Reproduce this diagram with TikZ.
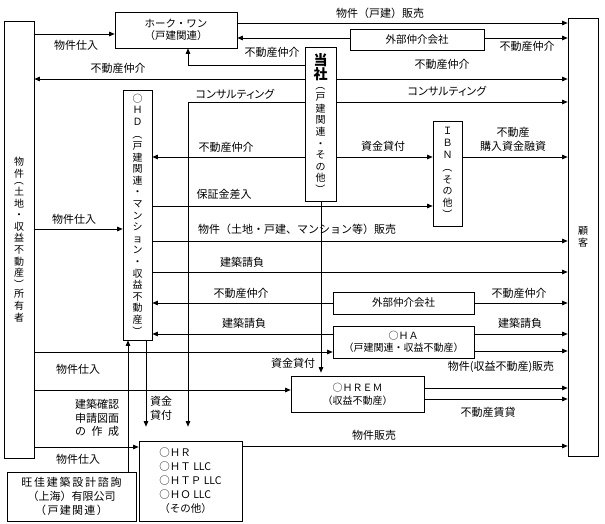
\documentclass[tikz,border=0pt]{standalone}
\usepackage{fontspec}
\usepackage{graphicx}
\setmainfont{Noto Sans CJK JP}
\usetikzlibrary{arrows.meta}
\newcommand{\vlp}{\rotatebox[origin=c]{-90}{（}}
\newcommand{\vrp}{\rotatebox[origin=c]{-90}{）}}
\newcommand{\labfont}{\fontsize{11}{13}\selectfont}
\newcommand{\boxfont}{\fontsize{10.5}{12}\selectfont}
\newcommand{\vfont}{\fontsize{10}{11.6}\selectfont}
\begin{document}
\begin{tikzpicture}[x=1pt,y=-1pt,
  box/.style={draw, line width=0.7pt, inner sep=0pt, align=center, font=\boxfont},
  vbox/.style={box, font=\vfont},
  ln/.style={line width=0.7pt},
  arr/.style={ln, -{Triangle[length=5.5pt,width=4.5pt]}},
  lab/.style={inner sep=0pt, align=center, font=\labfont},
  kana/.style={lab, font=\labfont\addfontfeature{RawFeature=+palt}}]
\useasboundingbox[fill=white] (0,0) rectangle (605,523);

% boxes
\node[vbox, minimum width=30pt, minimum height=437pt] (L) at (19,239.5)
  {物\\件\\[-5pt]\vlp\\土\\地\\・\\収\\益\\不\\動\\産\\\vrp\\[-2pt]所\\有\\者};
\node[vbox, minimum width=30pt, minimum height=438pt] (C) at (583,237) {顧\\客};
\node[box, minimum width=122pt, minimum height=36pt] (HW) at (176,30) {ホーク・ワン\\（戸建関連）};
\node[box, minimum width=134pt, minimum height=21pt] (EA1) at (417,39.5) {外部仲介会社};
\node[vbox, minimum width=31pt, minimum height=154pt] (TS) at (320.5,124)
  {\textbf{\fontsize{14}{14}\selectfont 当}\\\textbf{\fontsize{14}{14}\selectfont 社}\\[-2pt]\vlp\\戸\\建\\関\\連\\・\\そ\\の\\他\\\vrp};
\node[vbox, minimum width=29pt, minimum height=250pt] (OHD) at (137.5,215)
  {○\\Ｈ\\Ｄ\\[1pt]\vlp\\戸\\建\\関\\連\\・\\マ\\ン\\シ\\ョ\\ン\\・\\収\\益\\不\\動\\産\\\vrp};
\node[vbox, minimum width=29pt, minimum height=105pt] (IBN) at (447.5,173.5)
  {Ｉ\\Ｂ\\Ｎ\\[2pt]\vlp\\そ\\の\\他\\\vrp};
\node[box, minimum width=141pt, minimum height=22pt] (EA2) at (403.5,303) {外部仲介会社};
\node[box, minimum width=141pt, minimum height=32pt, font=\fontsize{10}{12}\selectfont] (OHA) at (403.5,342) {○ＨＡ\\（戸建関連・収益不動産）};
\node[box, minimum width=133pt, minimum height=36pt, font=\fontsize{10}{13}\selectfont] (OHREM) at (357.5,394) {○ＨＲＥＭ\\（収益不動産）};
\node[box, minimum width=103pt, minimum height=80pt, align=left, font=\fontsize{10.5}{14}\selectfont] (OHR) at (190.5,481)
  {○ＨＲ\\○ＨＴ LLC\\○ＨＴＰ LLC\\○ＨＯ LLC\\（その他）};
\node[box, minimum width=129pt, minimum height=49pt, font=\fontsize{11}{14}\selectfont] (WJ) at (71.5,496.5)
  {{\addfontfeature{LetterSpace=16}旺佳建築設計諮詢}\\（上海）有限公司\\{\addfontfeature{LetterSpace=12}（戸建関連）}};

% connectors
\draw[arr] (L.east |- 0,34) -- (HW.west |- 0,34);
\draw[arr] (HW.east |- 0,23) -- (C.west |- 0,23);
\draw[arr] (EA1.west |- 0,38) -- (HW.east |- 0,38);
\draw[arr] (EA1.east |- 0,38) -- (C.west |- 0,38);
\draw[arr] (TS.west |- 0,65) -| (HW.south -| 188,0);
\draw[arr] (TS.west |- 0,79) -- (L.east |- 0,79);
\draw[arr] (TS.east |- 0,79) -- (C.west |- 0,79);
\draw[arr] (TS.east |- 0,102) -- (C.west |- 0,102);
\draw[arr, shorten >=14pt] (TS.west |- 0,102) -| (OHR.north -| 188,0);
\draw[arr] (TS.west |- 0,157) -- (OHD.east |- 0,157);
\draw[arr] (TS.east |- 0,157) -- (IBN.west |- 0,157);
\draw[arr] (IBN.east |- 0,157) -- (C.west |- 0,157);
\draw[arr] (OHD.east |- 0,206) -- (IBN.west |- 0,206);
\draw[arr] (L.east |- 0,229) -- (OHD.west |- 0,229);
\draw[arr] (OHD.east |- 0,241) -- (C.west |- 0,241);
\draw[arr] (OHD.east |- 0,272) -- (C.west |- 0,272);
\draw[arr] (EA2.west) -- (OHD.east |- EA2.west);
\draw[arr] (EA2.east) -- (C.west |- EA2.east);
\draw[arr] (OHA.west |- 0,334) -- (OHD.east |- 0,334);
\draw[arr] (OHA.east |- 0,334) -- (C.west |- 0,334);
\draw[arr] (OHA.east |- 0,351) -- (C.west |- 0,351);
\draw[arr] (L.east |- 0,352) -- (OHA.west |- 0,352);
\draw[arr, shorten >=3pt] (TS.south -| 321,0) -- (OHREM.north -| 321,0);
\draw[arr] (L.east |- 0,390) -- (OHREM.west |- 0,390);
\draw[arr] (OHREM.east |- 0,388) -- (C.west |- 0,388);
\draw[arr] (OHREM.east |- 0,399) -- (C.west |- 0,399);
\draw[arr, shorten >=14pt] (OHD.south -| 146,0) -- (OHR.north -| 146,0);
\draw[arr] (WJ.north -| 128,0) -- (OHD.south -| 128,0);
\draw[arr] (OHR.east |- 0,446) -- (C.west |- 0,446);
\draw[arr] (L.east |- 0,447) -- (OHR.west |- 0,447);

% labels
\node[lab] (l1) at (76,45) {物件仕入};
\node[lab] (l2) at (380,13) {物件（戸建）販売};
\node[lab] (l3) at (527,46) {不動産仲介};
\node[lab] (l4) at (272,52) {不動産仲介};
\node[lab] (l5) at (118,68) {不動産仲介};
\node[lab] (l6) at (442,64) {不動産仲介};
\node[kana] (l7) at (447,91) {コンサルティング};
\node[kana] (l8) at (235,94) {コンサルティング};
\node[lab] (l9) at (226,147) {不動産仲介};
\node[lab] (l10) at (383,146) {資金貸付};
\node[lab, font=\fontsize{11}{14}\selectfont] (l11) at (513,139) {不動産\\購入資金融資};
\node[lab] (l12) at (224,194) {保証金差入};
\node[lab] (l13) at (74,219) {物件仕入};
\node[lab] (l14) at (297,229) {物件（土地・戸建、マンション等）販売};
\node[lab] (l15) at (242,262) {建築請負};
\node[lab] (l16) at (241,293) {不動産仲介};
\node[lab] (l17) at (519,293) {不動産仲介};
\node[lab] (l18) at (244,323) {建築請負};
\node[lab] (l19) at (520,323) {建築請負};
\node[lab] (l20) at (501,367) {物件(収益不動産)販売};
\node[lab] (l21) at (78,369) {物件仕入};
\node[lab] (l22) at (293,363) {資金貸付};
\node[lab] (l23) at (488,412) {不動産賃貸};
\node[lab, font=\fontsize{11}{14}\selectfont] (l24) at (161,408) {資金\\貸付};
\node[lab, font=\fontsize{11}{13.5}\selectfont] (l25) at (97,418) {建築確認\\申請図面\\の\enspace 作\enspace 成};
\node[lab] (l26) at (374,435) {物件販売};
\node[lab] (l27) at (78,459) {物件仕入};
\end{tikzpicture}
\end{document}
